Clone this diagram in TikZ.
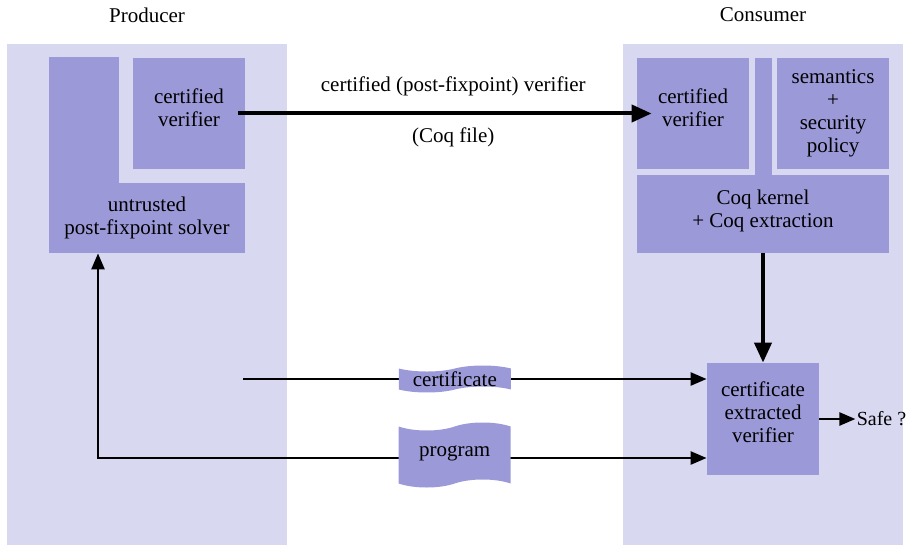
\documentclass[tikz,border=0pt]{standalone}
\usepackage{fontspec}
\setmainfont{Liberation Serif}
\usetikzlibrary{arrows.meta, positioning, shapes.symbols}
\definecolor{panelblue}{RGB}{216,216,241}
\definecolor{boxblue}{RGB}{155,153,216}
\tikzset{
>={Triangle[length=8pt,width=6.5pt]}, % tips of the thin arrows
font=\fontsize{10.5}{11.5}\selectfont, % one size for every text
panel/.style={fill=panelblue}, % the producer and consumer columns
part/.style={fill=boxblue, align=center, inner sep=0pt}, % every inner box
wire/.style={line width=1.25pt, ->}, % thin arrows
bigwire/.style={line width=2pt, -{Triangle[length=10pt,width=8.5pt]}}, % thick arrows
flag/.style={tape, fill=boxblue, tape bend top=in and out, tape bend bottom=in and out, minimum width=56pt, inner xsep=0pt}, % wavy labels on the lines
}

\begin{document}
\begin{tikzpicture}[x=0.5pt, y=-0.5pt]
    \useasboundingbox (0,0) rectangle (908,545);
    \fill[panel] (7,44) rectangle (287,545);
    \fill[panel] (623,44) rectangle (903,545);
    \node (prod) at (147,15) {Producer};
    \node (cons) at (763,15) {Consumer};

    % producer side
    \fill[boxblue] (49,57) rectangle (119,183);
    \node[part, minimum width=98pt, minimum height=35pt] (solver) at (147,218) {untrusted\\post-fixpoint solver};
    \node[part, minimum width=56pt, minimum height=55.5pt, text depth=6pt] (pv) at (189,113.5) {certified\\verifier};

    % consumer side
    \node[part, minimum width=56pt, minimum height=55.5pt, text depth=6pt] (cv) at (693,113.5) {certified\\verifier};
    \node[part, minimum width=56pt, minimum height=55.5pt] (sem) at (833,113.5) {semantics\\+\\security\\policy};
    \fill[boxblue] (755,58) rectangle (772,176);
    \node[part, minimum width=126pt, minimum height=39pt, text depth=5pt] (coq) at (763,214) {Coq kernel\\+ Coq extraction};
    \node[part, minimum size=56pt, text depth=7pt] (cev) at (763,419) {certificate\\extracted\\verifier};
    \node[right=18pt of cev, inner xsep=0.5pt, font=\fontsize{10}{11}\selectfont] (safe) {Safe ?};
    \coordinate (certsrc) at (243,379);

    \draw[bigwire] ([xshift=-3.5pt]pv.east) -- node[pos=0.52, above=4.5pt] {certified (post-fixpoint) verifier} node[pos=0.52, below=3pt] {(Coq file)} ([xshift=7.5pt]cv.west);
    \draw[bigwire] (coq) -- (cev);
    \draw[wire] (cev) -- (safe);
    \draw[wire] (certsrc) -- node[flag, pos=0.457, minimum height=10pt, inner ysep=0pt, tape bend height=3pt] {certificate} ([yshift=20pt]cev.west);
    \draw[wire, <->] ([xshift=-24.5pt]solver.south) |- node[flag, pos=0.793, minimum height=32.5pt, tape bend height=4pt, yshift=1.5pt, text depth=4pt] {program} ([yshift=-19.5pt]cev.west);
\end{tikzpicture}
\end{document}
